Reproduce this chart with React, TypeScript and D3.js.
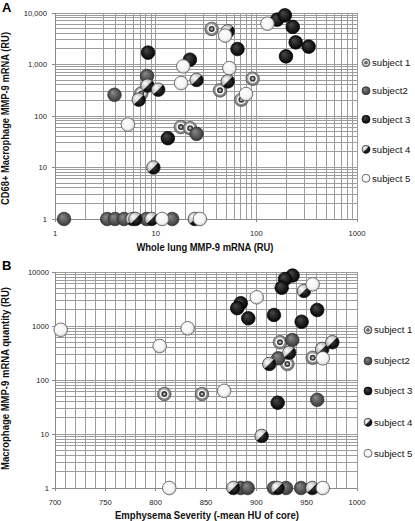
import React from 'react';
import * as d3 from 'd3';

type Pt = [number, number];

const subjectNames = ['subject 1', 'subject2', 'subject 3', 'subject 4', 'subject 5'];

// Panel A: whole lung MMP-9 mRNA (x) vs CD68+ macrophage MMP-9 mRNA (y)
const aSubject1: Pt[] = [[36, 4900], [92, 530], [43.6, 315], [71, 207], [17.8, 61], [22, 58], [7.2, 275]];
const aSubject2: Pt[] = [[3.9, 258], [8.2, 600], [25.5, 45], [1.23, 1], [3.3, 1], [3.95, 1], [4.85, 1], [8.1, 1], [14.6, 1]];
const aSubject3: Pt[] = [[8.4, 1700], [21.9, 1240], [65, 2000], [161, 7430], [192, 9000], [230, 5370], [246, 2690], [331, 2220], [197, 1440], [13.2, 37]];
const aSubject4: Pt[] = [[6.8, 207], [8.3, 388], [10.6, 324], [25.5, 500], [52, 4400], [52, 470], [9.5, 10], [5.9, 1], [6.3, 1], [9.1, 1], [24.5, 1]];
const aSubject5: Pt[] = [[5.3, 68], [18.8, 920], [17.9, 436], [129, 6200], [49, 3640], [54, 850], [79, 267], [11.6, 1], [27.5, 1]];

// Panel B: emphysema severity (x) vs macrophage MMP-9 mRNA quantity (y)
const bSubject1: Pt[] = [[808.6, 55], [846, 55], [923.5, 500], [930.8, 198], [956, 258]];
const bSubject2: Pt[] = [[935.7, 550], [921.8, 252], [960.5, 43], [884.5, 1], [891.4, 1], [917.5, 1], [929.5, 1], [944.4, 1]];
const bSubject3: Pt[] = [[936, 8600], [928.5, 7400], [925.2, 5100], [884.5, 2640], [881, 2140], [892, 1390], [917.5, 1600], [945, 1200], [960.5, 1980], [921.2, 38]];
const bSubject4: Pt[] = [[947.3, 4440], [912.9, 198], [932.7, 320], [965.5, 375], [975.5, 500], [905.3, 9.2], [877.2, 1], [921.2, 1], [955.6, 1]];
const bSubject5: Pt[] = [[705.7, 850], [804, 426], [831.8, 906], [900.4, 3400], [956, 5900], [966, 252], [868, 63], [813.5, 1], [966, 1]];

const aXTicks = [1, 10, 100, 1000];
const aXTickLabels = ['1', '10', '100', '1000'];
const aYTicks = [1, 10, 100, 1000, 10000];
const aYTickLabels = ['1', '10', '100', '1,000', '10,000'];
const bXTicks = [700, 750, 800, 850, 900, 950, 1000];
const bXTickLabels = ['700', '750', '800', '850', '900', '950', '1000'];
const bYTicks = [1, 10, 100, 1000, 10000];
const bYTickLabels = ['1', '10', '100', '1000', '10000'];

const FONT = '"Liberation Sans", Arial, sans-serif';
const GRID = '#9c9c9c';

function logGridValues(lo: number, hi: number): number[] {
  const out: number[] = [];
  for (let p = Math.floor(Math.log10(lo)); p <= Math.ceil(Math.log10(hi)); p++) {
    for (let m = 1; m <= 9; m++) {
      const v = m * Math.pow(10, p);
      if (v >= lo - 1e-9 && v <= hi + 1e-9) out.push(v);
    }
  }
  return out;
}

function Marker({ kind, cx, cy, r }: { kind: number; cx: number; cy: number; r: number }) {
  const a = r / Math.SQRT2;
  if (kind === 0) {
    return (
      <g transform={`translate(${cx},${cy})`}>
        <circle r={r} fill="url(#gS1)" stroke="#4a4a4a" strokeWidth={0.7} />
        <circle r={r * 0.64} fill="#ffffff" />
        <circle r={r * 0.44} fill="#3a3a3a" />
        <circle r={r * 0.2} fill="#b0b0b0" />
      </g>
    );
  }
  if (kind === 1) {
    return <circle cx={cx} cy={cy} r={r} fill="url(#gS2)" stroke="#2e2e2e" strokeWidth={0.7} />;
  }
  if (kind === 2) {
    return <circle cx={cx} cy={cy} r={r} fill="url(#gS3)" stroke="#000" strokeWidth={0.7} />;
  }
  if (kind === 3) {
    return (
      <g transform={`translate(${cx},${cy})`}>
        <circle r={r} fill="url(#gS4L)" />
        <path d={`M${-a},${a} A${r},${r} 0 0 0 ${a},${-a} Z`} fill="url(#gS4D)" />
        <circle r={r} fill="none" stroke="#2a2a2a" strokeWidth={0.7} />
      </g>
    );
  }
  return <circle cx={cx} cy={cy} r={r} fill="url(#gS5)" stroke="#5a5a5a" strokeWidth={0.8} />;
}

type PanelProps = {
  x: any;
  y: any;
  xGrid: number[];
  yGrid: number[];
  xTicks: number[];
  xTickLabels: string[];
  yTicks: number[];
  yTickLabels: string[];
  series: Pt[][];
  yLabelRight: number;
  xLabelY: number;
  xTitle: string;
  xTitleLen: number;
  xTitleCx: number;
  yTitle: string;
  yTitleLen: number;
  yTitleCy: number;
  letter: string;
  letterY: number;
  legendX: number;
  legendYs: number[];
  xTitleY: number;
};

function Panel(p: PanelProps) {
  const [x0, x1] = p.x.range();
  const [yb, yt] = p.y.range();
  const R = 6.8;
  return (
    <g>
      <text x={2} y={p.letterY} fontFamily={FONT} fontWeight="bold" fontSize={13}>{p.letter}</text>
      <g shapeRendering="crispEdges">
        {p.yGrid.map((v, i) => (
          <line key={'h' + i} x1={x0} x2={x1} y1={p.y(v)} y2={p.y(v)} stroke={GRID} strokeWidth={1} />
        ))}
        {p.xGrid.map((v, i) => (
          <line key={'v' + i} x1={p.x(v)} x2={p.x(v)} y1={yt} y2={yb} stroke={GRID} strokeWidth={1} />
        ))}
        <line x1={x0} x2={x0} y1={yt} y2={yb} stroke="#8a8a8a" />
        <line x1={x0} x2={x1} y1={yb} y2={yb} stroke="#8a8a8a" />
        {p.yTicks.map((v, i) => (
          <line key={'yt' + i} x1={x0 - 3} x2={x0} y1={p.y(v)} y2={p.y(v)} stroke="#8a8a8a" />
        ))}
        {p.xTicks.map((v, i) => (
          <line key={'xt' + i} x1={p.x(v)} x2={p.x(v)} y1={yb} y2={yb + 3} stroke="#8a8a8a" />
        ))}
      </g>
      {p.yTicks.map((v, i) => (
        <text key={'yl' + i} x={p.yLabelRight} y={p.y(v) + 2.8} textAnchor="end" fontFamily={FONT} fontSize={7.6} fill="#1a1a1a">
          {p.yTickLabels[i]}
        </text>
      ))}
      {p.xTicks.map((v, i) => (
        <text key={'xl' + i} x={p.x(v)} y={p.xLabelY} textAnchor="middle" fontFamily={FONT} fontSize={7.6} fill="#1a1a1a">
          {p.xTickLabels[i]}
        </text>
      ))}
      <text x={p.xTitleCx} y={p.xTitleY} textAnchor="middle" fontFamily={FONT} fontWeight="bold" fontSize={10.5}
        textLength={p.xTitleLen} lengthAdjust="spacingAndGlyphs" fill="#111">{p.xTitle}</text>
      <text transform={`translate(9,${p.yTitleCy}) rotate(-90)`} textAnchor="middle" fontFamily={FONT} fontWeight="bold" fontSize={10.5}
        textLength={p.yTitleLen} lengthAdjust="spacingAndGlyphs" fill="#111">{p.yTitle}</text>
      {p.series.map((s, k) => (
        <g key={'s' + k}>
          {s.map((d, i) => (
            <Marker key={i} kind={k} cx={p.x(d[0])} cy={p.y(d[1])} r={R} />
          ))}
        </g>
      ))}
      {subjectNames.map((n, k) => (
        <g key={'lg' + k}>
          <Marker kind={k} cx={p.legendX} cy={p.legendYs[k]} r={4} />
          <text x={p.legendX + 6} y={p.legendYs[k] + 3.4} fontFamily={FONT} fontSize={9.6} fill="#111">{n}</text>
        </g>
      ))}
    </g>
  );
}

export default function App() {
  const xA = d3.scaleLog().domain([1, 1000]).range([55, 357]);
  const yA = d3.scaleLog().domain([1, 10000]).range([219, 13]);
  const xB = d3.scaleLinear().domain([700, 1000]).range([55, 357]);
  const yB = d3.scaleLog().domain([1, 10000]).range([488, 272]);

  const bXGrid = d3.range(700, 1001, 10);

  return (
    <div style={{ position: 'fixed', left: 0, top: 0 }}>
      <svg width={415} height={521} style={{ display: 'block', background: '#fff' }}>
        <defs>
          <radialGradient id="gS1" cx="50%" cy="50%" r="55%" fx="35%" fy="30%">
            <stop offset="0%" stopColor="#e4e4e4" />
            <stop offset="100%" stopColor="#6e6e6e" />
          </radialGradient>
          <radialGradient id="gS2" cx="50%" cy="50%" r="55%" fx="35%" fy="30%">
            <stop offset="0%" stopColor="#8c8c8c" />
            <stop offset="100%" stopColor="#333333" />
          </radialGradient>
          <radialGradient id="gS3" cx="50%" cy="50%" r="55%" fx="35%" fy="30%">
            <stop offset="0%" stopColor="#4a4a4a" />
            <stop offset="100%" stopColor="#000000" />
          </radialGradient>
          <radialGradient id="gS4L" cx="50%" cy="50%" r="60%" fx="30%" fy="30%">
            <stop offset="0%" stopColor="#ffffff" />
            <stop offset="100%" stopColor="#9a9a9a" />
          </radialGradient>
          <radialGradient id="gS4D" cx="50%" cy="50%" r="55%" fx="40%" fy="40%">
            <stop offset="0%" stopColor="#3a3a3a" />
            <stop offset="100%" stopColor="#000000" />
          </radialGradient>
          <radialGradient id="gS5" cx="50%" cy="50%" r="55%" fx="35%" fy="30%">
            <stop offset="0%" stopColor="#ffffff" />
            <stop offset="70%" stopColor="#f4f4f4" />
            <stop offset="100%" stopColor="#b4b4b4" />
          </radialGradient>
        </defs>
        <Panel
          x={xA} y={yA}
          xGrid={logGridValues(1, 1000)} yGrid={logGridValues(1, 10000)}
          xTicks={aXTicks} xTickLabels={aXTickLabels}
          yTicks={aYTicks} yTickLabels={aYTickLabels}
          series={[aSubject1, aSubject2, aSubject3, aSubject4, aSubject5]}
          yLabelRight={47} xLabelY={235.5}
          xTitle="Whole lung MMP-9 mRNA (RU)" xTitleLen={137} xTitleCx={205} xTitleY={250.5}
          yTitle="CD68+ Macrophage MMP-9 mRNA (RU)" yTitleLen={173} yTitleCy={118.5}
          letter="A" letterY={11.5}
          legendX={366} legendYs={[62.7, 90.7, 119.3, 149.3, 178.3]}
        />
        <Panel
          x={xB} y={yB}
          xGrid={bXGrid} yGrid={logGridValues(1, 10000)}
          xTicks={bXTicks} xTickLabels={bXTickLabels}
          yTicks={bYTicks} yTickLabels={bYTickLabels}
          series={[bSubject1, bSubject2, bSubject3, bSubject4, bSubject5]}
          yLabelRight={49} xLabelY={505}
          xTitle="Emphysema Severity (-mean HU of core)" xTitleLen={184} xTitleCx={207} xTitleY={518.5}
          yTitle="Macrophage MMP-9 mRNA quantity (RU)" yTitleLen={183} yTitleCy={378.5}
          letter="B" letterY={270}
          legendX={368} legendYs={[330, 361, 391, 422.3, 453.3]}
        />
      </svg>
    </div>
  );
}
